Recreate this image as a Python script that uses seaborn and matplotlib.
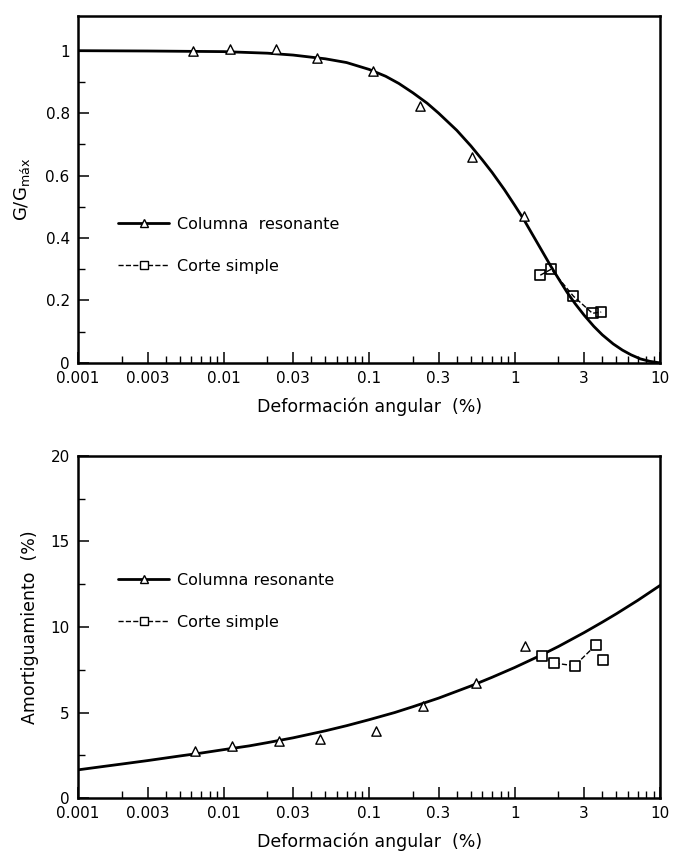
import numpy as np
import pandas as pd
import seaborn as sns
import matplotlib.pyplot as plt
from matplotlib.lines import Line2D
from matplotlib.ticker import FixedLocator, FixedFormatter, NullFormatter

# --- curva G/Gmax ---
g_curva_x = [0.001, 0.003, 0.01, 0.02, 0.03, 0.05, 0.07, 0.1, 0.13, 0.16, 0.2, 0.25, 0.3,
             0.4, 0.5, 0.6, 0.7, 0.85, 1.0, 1.16, 1.3, 1.5, 1.76, 2.0, 2.3, 2.6, 3.0,
             3.5, 4.0, 4.75, 5.5, 6.3, 7.3, 8.5, 10]
g_curva_y = [1.0, 0.999, 0.997, 0.992, 0.986, 0.974, 0.962, 0.940, 0.918, 0.895, 0.865, 0.832, 0.800,
             0.745, 0.695, 0.650, 0.610, 0.555, 0.505, 0.458, 0.418, 0.368, 0.312, 0.270, 0.225, 0.190, 0.153,
             0.117, 0.090, 0.061, 0.041, 0.026, 0.013, 0.005, 0.0]

# columna resonante (triangulos)
g_col_x = [0.0062, 0.011, 0.023, 0.044, 0.107, 0.224, 0.51, 1.16]
g_col_y = [1.0, 1.005, 1.005, 0.977, 0.935, 0.823, 0.658, 0.469]

# corte simple (cuadrados)
g_corte_x = [1.50, 1.78, 2.53, 3.42, 3.93]
g_corte_y = [0.281, 0.30, 0.214, 0.159, 0.163]

# --- curva amortiguamiento ---
d_curva_x = [0.001, 0.0015, 0.002, 0.003, 0.005, 0.007, 0.01, 0.015, 0.02, 0.03, 0.05, 0.07,
             0.1, 0.15, 0.2, 0.3, 0.5, 0.7, 1.0, 1.5, 2.0, 3.0, 4.0, 5.0, 7.0, 10]
d_curva_y = [1.65, 1.85, 1.99, 2.19, 2.46, 2.63, 2.83, 3.05, 3.24, 3.52, 3.93, 4.23,
             4.58, 5.0, 5.34, 5.84, 6.55, 7.06, 7.63, 8.33, 8.86, 9.67, 10.28, 10.77, 11.55, 12.43]

d_col_x = [0.0064, 0.0114, 0.024, 0.0457, 0.111, 0.233, 0.54, 1.17]
d_col_y = [2.73, 3.06, 3.31, 3.45, 3.9, 5.36, 6.72, 8.9]

d_corte_x = [1.54, 1.86, 2.58, 3.63, 4.07]
d_corte_y = [8.32, 7.89, 7.73, 8.96, 8.08]

x_ticks = [0.001, 0.003, 0.01, 0.03, 0.1, 0.3, 1, 3, 10]
x_labels = ["0.001", "0.003", "0.01", "0.03", "0.1", "0.3", "1", "3", "10"]

sns.set_style("ticks")
plt.rcParams['font.family'] = ['DejaVu Sans']
plt.rcParams['text.color'] = 'black'
plt.rcParams['axes.labelcolor'] = 'black'
plt.rcParams['xtick.color'] = 'black'
plt.rcParams['ytick.color'] = 'black'

fig = plt.figure(figsize=(6.73, 8.6), dpi=100)
ax1 = fig.add_axes([0.116, 0.578, 0.865, 0.403])
ax2 = fig.add_axes([0.116, 0.072, 0.865, 0.398])


def estilo(ax):
    ax.set_xscale('log')
    ax.set_xlim(0.001, 10)
    ax.xaxis.set_major_locator(FixedLocator(x_ticks))
    ax.xaxis.set_major_formatter(FixedFormatter(x_labels))
    minors = [m * 10.0 ** e for e in range(-3, 1) for m in range(2, 10) if m != 3]
    ax.xaxis.set_minor_locator(FixedLocator(minors))
    ax.xaxis.set_minor_formatter(NullFormatter())
    ax.tick_params(axis='both', which='major', direction='in', length=8, width=1.1,
                   labelsize=11, color='black', labelcolor='black', pad=6)
    ax.tick_params(axis='both', which='minor', direction='in', length=5, width=1.0, color='black')
    for s in ax.spines.values():
        s.set_linewidth(1.8)
        s.set_color('black')
    ax.set_xlabel("Deformación angular  (%)", fontsize=12.5, labelpad=8)


# ---- panel superior ----
sns.lineplot(x=g_curva_x, y=g_curva_y, ax=ax1, color='black', lw=2.0, sort=False, estimator=None)
sns.lineplot(x=g_corte_x, y=g_corte_y, ax=ax1, color='black', lw=1.0, sort=False,
             estimator=None, linestyle='--')
sns.scatterplot(x=g_col_x, y=g_col_y, ax=ax1, marker='^', s=45, facecolor='white',
                edgecolor='black', linewidth=1.0, zorder=3)
sns.scatterplot(x=g_corte_x, y=g_corte_y, ax=ax1, marker='s', s=55, facecolor='none',
                edgecolor='black', linewidth=1.2, zorder=3)
estilo(ax1)
ax1.set_ylim(0, 1.11)
ax1.yaxis.set_major_locator(FixedLocator([0, 0.2, 0.4, 0.6, 0.8, 1.0]))
ax1.yaxis.set_major_formatter(FixedFormatter(["0", "0.2", "0.4", "0.6", "0.8", "1"]))
ax1.yaxis.set_minor_locator(FixedLocator([0.1, 0.3, 0.5, 0.7, 0.9]))
ax1.set_ylabel(r"G/G$_{\rm máx}$", fontsize=13, labelpad=10)

# ---- panel inferior ----
sns.lineplot(x=d_curva_x, y=d_curva_y, ax=ax2, color='black', lw=2.0, sort=False, estimator=None)
sns.lineplot(x=d_corte_x[:4], y=d_corte_y[:4], ax=ax2, color='black', lw=1.0, sort=False,
             estimator=None, linestyle='--')
sns.scatterplot(x=d_col_x, y=d_col_y, ax=ax2, marker='^', s=45, facecolor='white',
                edgecolor='black', linewidth=1.0, zorder=3)
sns.scatterplot(x=d_corte_x, y=d_corte_y, ax=ax2, marker='s', s=55, facecolor='white',
                edgecolor='black', linewidth=1.2, zorder=3)
estilo(ax2)
ax2.set_ylim(0, 20)
ax2.yaxis.set_major_locator(FixedLocator([0, 5, 10, 15, 20]))
ax2.yaxis.set_major_formatter(FixedFormatter(["0", "5", "10", "15", "20"]))
ax2.yaxis.set_minor_locator(FixedLocator([2.5, 7.5, 12.5, 17.5]))
ax2.set_ylabel("Amortiguamiento  (%)", fontsize=12.5, labelpad=8)

handles = [
    Line2D([], [], color='black', lw=2.0, marker='^', ms=6, mfc='white', mec='black'),
    Line2D([], [], color='black', lw=1.0, ls='--', marker='s', ms=6, mfc='white', mec='black'),
]
for ax, yy, lab in [(ax1, 0.339, "Columna  resonante"), (ax2, 0.575, "Columna resonante")]:
    ax.legend(handles, [lab, "Corte simple"], loc='center left', bbox_to_anchor=(0.069, yy),
              frameon=False, fontsize=11.5, handlelength=3.2, handletextpad=0.5,
              labelspacing=1.7, borderpad=0, borderaxespad=0)

fig.savefig("out.png", dpi=100)
